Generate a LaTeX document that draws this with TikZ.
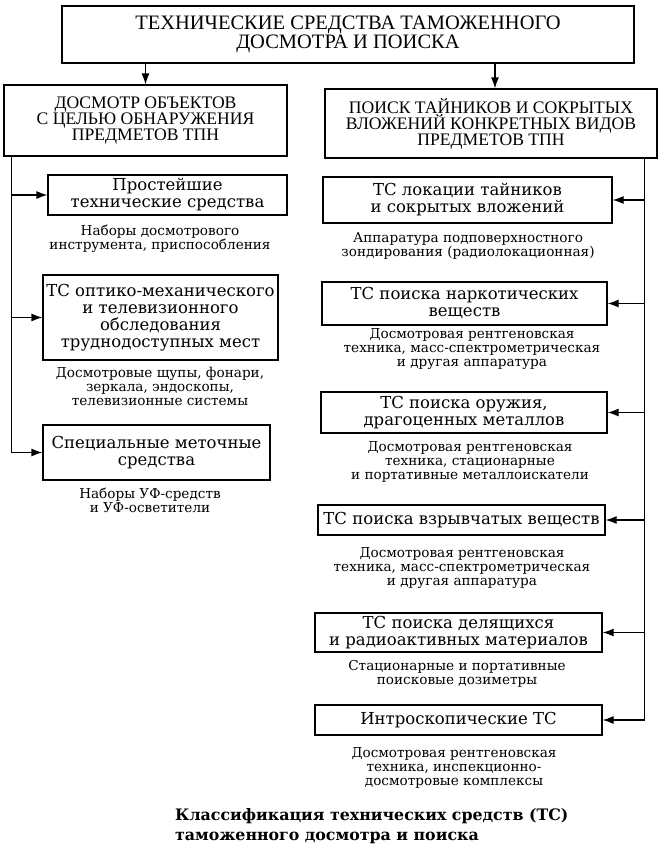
\documentclass[tikz,border=0pt]{standalone}
\usepackage{fontspec}
\setmainfont{Liberation Serif}
\newfontfamily\dvs{DejaVu Serif}
\usetikzlibrary{arrows.meta}
\tikzset{
  box/.style={draw, line width=1.25pt, inner sep=0pt, align=center},
  capsA/.style={font=\fontsize{20.5}{16.5}\selectfont},
  capsB/.style={font=\fontsize{17.6}{16}\selectfont},
  btxt/.style={font=\dvs\fontsize{16.5}{17}\selectfont},
  stxt/.style={align=center, inner sep=0pt, font=\dvs\fontsize{13.6}{14}\selectfont},
  arr/.style={line width=1.25pt, -{Latex[length=11pt,width=8pt]}},
  ln/.style={line width=1.25pt}
}
\begin{document}
\begin{tikzpicture}[x=1pt,y=-1pt]
\path[use as bounding box, fill=white] (0,0) rectangle (664,859);
% top
\node[box,capsA,minimum width=572pt,minimum height=57pt] (top) at (348,34.5) {ТЕХНИЧЕСКИЕ СРЕДСТВА ТАМОЖЕННОГО\\ДОСМОТРА И ПОИСКА};
\node[box,capsB,minimum width=283pt,minimum height=71pt] (L0) at (145.5,120.5) {ДОСМОТР ОБЪЕКТОВ\\С ЦЕЛЬЮ ОБНАРУЖЕНИЯ\\ПРЕДМЕТОВ ТПН};
\node[box,capsB,minimum width=332pt,minimum height=69pt] (R0) at (491,123.5) {ПОИСК ТАЙНИКОВ И СОКРЫТЫХ\\ВЛОЖЕНИЙ КОНКРЕТНЫХ ВИДОВ\\ПРЕДМЕТОВ ТПН};
\draw[arr] (L0.north |- top.south) -- (L0.north);
\draw[arr] ([xshift=4pt]R0.north |- top.south) -- ([xshift=4pt]R0.north);
% left column
\node[box,btxt,minimum width=239pt,minimum height=40pt] (L1) at (167.5,195) {Простейшие\\технические средства};
\node[stxt] (L1s) at (160,238.5) {Наборы досмотрового\\инструмента, приспособления};
\node[box,btxt,minimum width=235pt,minimum height=85pt] (L2) at (160.5,317.5) {ТС оптико-механического\\и телевизионного\\обследования\\труднодоступных мест};
\node[stxt] (L2s) at (160,386) {Досмотровые щупы, фонари,\\зеркала, эндоскопы,\\телевизионные системы};
\node[box,btxt,minimum width=227pt,minimum height=55pt] (L3) at (156.5,452.5) {Специальные меточные\\средства};
\node[stxt] (L3s) at (150,500.5) {Наборы УФ-средств\\и УФ-осветители};
\coordinate (lstem) at ([xshift=8pt]L0.south west);
\draw[ln] (lstem) -- (lstem |- L3.west);
\draw[arr] (lstem |- L1.west) -- (L1.west);
\draw[arr] (lstem |- L2.west) -- (L2.west);
\draw[arr] (lstem |- L3.west) -- (L3.west);
% right column
\node[box,btxt,minimum width=289pt,minimum height=46pt] (R1) at (467.5,200) {ТС локации тайников\\и сокрытых вложений};
\node[stxt] (R1s) at (468,245.5) {Аппаратура подповерхностного\\зондирования (радиолокационная)};
\node[box,btxt,minimum width=285pt,minimum height=43pt] (R2) at (464.5,303.5) {ТС поиска наркотических\\веществ};
\node[stxt] (R2s) at (472,349) {Досмотровая рентгеновская\\техника, масс-спектрометрическая\\и другая аппаратура};
\node[box,btxt,minimum width=286pt,minimum height=41pt] (R3) at (464,412.5) {ТС поиска оружия,\\драгоценных металлов};
\node[stxt] (R3s) at (470,462) {Досмотровая рентгеновская\\техника, стационарные\\и портативные металлоискатели};
\node[box,btxt,minimum width=287pt,minimum height=30pt] (R4) at (461.5,520) {ТС поиска взрывчатых веществ};
\node[stxt] (R4s) at (462,568) {Досмотровая рентгеновская\\техника, масс-спектрометрическая\\и другая аппаратура};
\node[box,btxt,minimum width=287pt,minimum height=39pt] (R5) at (458.5,632.5) {ТС поиска делящихся\\и радиоактивных материалов};
\node[stxt] (R5s) at (457,673.5) {Стационарные и портативные\\поисковые дозиметры};
\node[box,btxt,minimum width=287pt,minimum height=30pt] (R6) at (458.5,720) {Интроскопические ТС};
\node[stxt] (R6s) at (454,768) {Досмотровая рентгеновская\\техника, инспекционно-\\досмотровые комплексы};
\coordinate (rstem) at ([xshift=-13pt]R0.south east);
\draw[ln] (rstem) -- (rstem |- R6.east);
\draw[arr] (rstem |- R1.east) -- (R1.east);
\draw[arr] (rstem |- R2.east) -- (R2.east);
\draw[arr] (rstem |- R3.east) -- (R3.east);
\draw[arr] (rstem |- R4.east) -- (R4.east);
\draw[arr] (rstem |- R5.east) -- (R5.east);
\draw[arr] (rstem |- R6.east) -- (R6.east);
% caption
\node[anchor=west, align=left, inner sep=0pt, font=\dvs\bfseries\fontsize{15.8}{19.5}\selectfont] (cap) at (175,826) {Классификация технических средств (ТС)\\таможенного досмотра и поиска};
\end{tikzpicture}
\end{document}
